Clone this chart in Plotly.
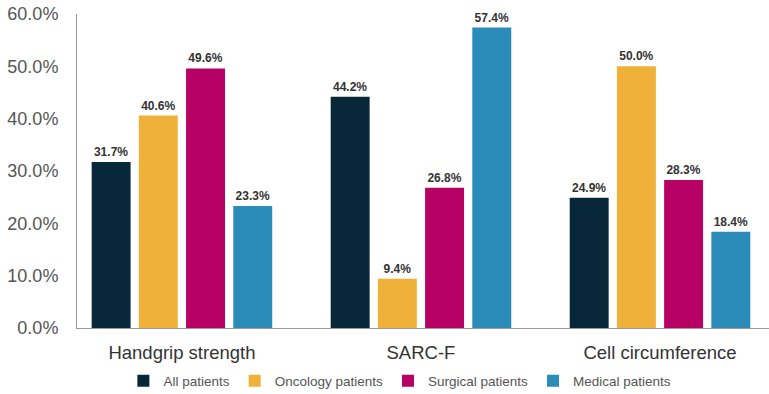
import plotly.graph_objects as go

categories = ["Handgrip strength", "SARC-F", "Cell circumference"]
series_names = ["All patients", "Oncology patients", "Surgical patients", "Medical patients"]
all_patients = [31.7, 44.2, 24.9]
oncology_patients = [40.6, 9.4, 50.0]
surgical_patients = [49.6, 26.8, 28.3]
medical_patients = [23.3, 57.4, 18.4]
y_ticks = [0, 10, 20, 30, 40, 50, 60]

colors = ["#08283a", "#efb13a", "#b70063", "#2b8cba"]
values = [all_patients, oncology_patients, surgical_patients, medical_patients]

font_family = "Liberation Sans, Arial, Helvetica, sans-serif"

fig = go.Figure()
for name, vals, col in zip(series_names, values, colors):
    fig.add_trace(go.Bar(
        name=name,
        x=categories,
        y=vals,
        marker=dict(color=col, line=dict(width=0)),
        texttemplate="<b>%{y:.1f}%</b>",
        textposition="outside",
        textfont=dict(family=font_family, size=12, color="#333333"),
        cliponaxis=False,
    ))

fig.update_layout(
    width=769,
    height=394,
    margin=dict(l=77, r=0, t=14, b=66, autoexpand=False),
    paper_bgcolor="white",
    plot_bgcolor="white",
    barmode="group",
    bargap=0.21,
    bargroupgap=0.175,
    font=dict(family=font_family),
    showlegend=True,
    legend=dict(
        orientation="h",
        x=0.52,
        xanchor="center",
        xref="container",
        y=0.033,
        yanchor="middle",
        yref="container",
        font=dict(family=font_family, size=13.5, color="#555555"),
        itemwidth=30,
        traceorder="normal",
    ),
    xaxis=dict(
        range=[-0.439, 2.456],
        showline=True,
        linecolor="#9a9a9a",
        linewidth=1,
        ticks="",
        showgrid=False,
        automargin=False,
        ticklabelstandoff=8,
        tickfont=dict(family=font_family, size=18.5, color="#333333"),
    ),
    yaxis=dict(
        range=[0, 60],
        tickvals=y_ticks,
        ticktext=[f"{v:.1f}%" for v in y_ticks],
        showline=True,
        linecolor="#9a9a9a",
        linewidth=1,
        showgrid=False,
        zeroline=False,
        ticks="",
        automargin=False,
        ticklabelstandoff=14,
        tickfont=dict(family=font_family, size=18, color="#555555"),
    ),
)

fig.write_html("out.html")
